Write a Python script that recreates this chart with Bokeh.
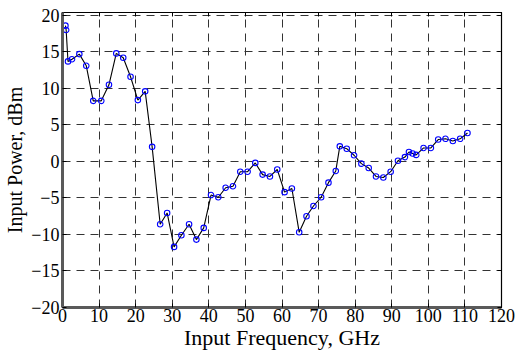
from bokeh.plotting import figure
from bokeh.models import LinearAxis, Range1d, FixedTicker, ColumnDataSource
from bokeh.embed import file_html
from bokeh.resources import INLINE

freq_ghz = [0.8, 1.0, 1.5, 2.6, 4.6, 6.5, 8.4, 10.6, 12.7, 14.7,
            16.6, 18.6, 20.6, 22.6, 24.5, 26.7, 28.6, 30.5, 32.5, 34.6,
            36.6, 38.6, 40.6, 42.6, 44.6, 46.6, 48.6, 50.6, 52.7, 54.7,
            56.7, 58.7, 60.7, 62.7, 64.7, 66.7, 68.6, 70.7, 72.7, 74.7,
            75.8, 77.7, 79.7, 81.7, 83.7, 85.7, 87.7, 89.7, 91.7, 93.6,
            94.7, 95.7, 96.7, 98.7, 100.7, 102.7, 104.7, 106.7, 108.7, 110.7]
power_dbm = [18.6, 18.0, 13.7, 14.0, 14.7, 13.1, 8.3, 8.3, 10.5, 14.8,
             14.2, 11.6, 8.4, 9.6, 2.0, -8.6, -7.05, -11.7, -10.1, -8.6,
             -10.7, -9.1, -4.6, -4.9, -3.6, -3.4, -1.4, -1.4, -0.2, -1.8,
             -2.05, -1.1, -4.2, -3.7, -9.7, -7.5, -6.1, -4.9, -2.9, -1.3,
             2.07, 1.75, 0.85, -0.3, -0.9, -2.05, -2.2, -1.4, 0.1, 0.6,
             1.3, 1.1, 0.9, 1.85, 1.85, 3.0, 3.1, 2.8, 3.1, 3.9]
x_ticks = [0, 10, 20, 30, 40, 50, 60, 70, 80, 90, 100, 110, 120]
y_ticks = [-20, -15, -10, -5, 0, 5, 10, 15, 20]

FONT = "Liberation Serif"

src = ColumnDataSource(dict(x=freq_ghz, y=power_dbm))

p = figure(width=520, height=352, output_backend="svg", toolbar_location=None,
           x_range=Range1d(0, 120), y_range=Range1d(-20, 20.4),
           min_border_left=62, min_border_right=19, min_border_top=12, min_border_bottom=43,
           x_axis_label="Input Frequency, GHz", y_axis_label="Input Power, dBm")
p.background_fill_color = "white"
p.border_fill_color = "white"
p.outline_line_color = "black"
p.outline_line_width = 1.2

for ax in (p.xaxis[0], p.yaxis[0]):
    ax.major_label_text_font = FONT
    ax.major_label_text_font_size = "18px"
    ax.major_label_text_color = "black"
    ax.axis_label_text_font = FONT
    ax.axis_label_text_font_style = "normal"
    ax.axis_label_text_color = "black"
    ax.major_tick_in = 4
    ax.major_tick_out = 0
    ax.minor_tick_in = 0
    ax.minor_tick_out = 0
    ax.major_tick_line_color = "black"
    ax.axis_line_color = "#5a5a5a"
    ax.axis_line_width = 3

p.xaxis[0].ticker = FixedTicker(ticks=x_ticks)
p.yaxis[0].ticker = FixedTicker(ticks=y_ticks)
p.xaxis[0].axis_label_text_font_size = "22px"
p.yaxis[0].axis_label_text_font_size = "20px"
p.xaxis[0].major_label_standoff = 1
p.xaxis[0].axis_label_standoff = 0
p.yaxis[0].major_label_standoff = 3
p.yaxis[0].axis_label_standoff = 2

top = LinearAxis(ticker=FixedTicker(ticks=x_ticks),
                 major_label_overrides={t: "" for t in x_ticks},
                 major_tick_in=4, major_tick_out=0, minor_tick_in=0, minor_tick_out=0,
                 axis_line_color="black", major_tick_line_color="black")
right = LinearAxis(ticker=FixedTicker(ticks=y_ticks),
                   major_label_overrides={t: "" for t in y_ticks},
                   major_tick_in=4, major_tick_out=0, minor_tick_in=0, minor_tick_out=0,
                   axis_line_color="black", major_tick_line_color="black")
p.add_layout(top, "above")
p.add_layout(right, "right")

p.xgrid.ticker = FixedTicker(ticks=x_ticks)
p.ygrid.ticker = FixedTicker(ticks=y_ticks)
for g in (p.xgrid, p.ygrid):
    g.grid_line_color = "#333333"
    g.grid_line_dash = "8 6"
    g.grid_line_width = 1

p.line("x", "y", source=src, line_color="black", line_width=1.1)
p.scatter("x", "y", source=src, size=5.5, fill_color=None, line_color="blue", line_width=1.1)

open("out.html", "w").write(file_html(p, INLINE))
